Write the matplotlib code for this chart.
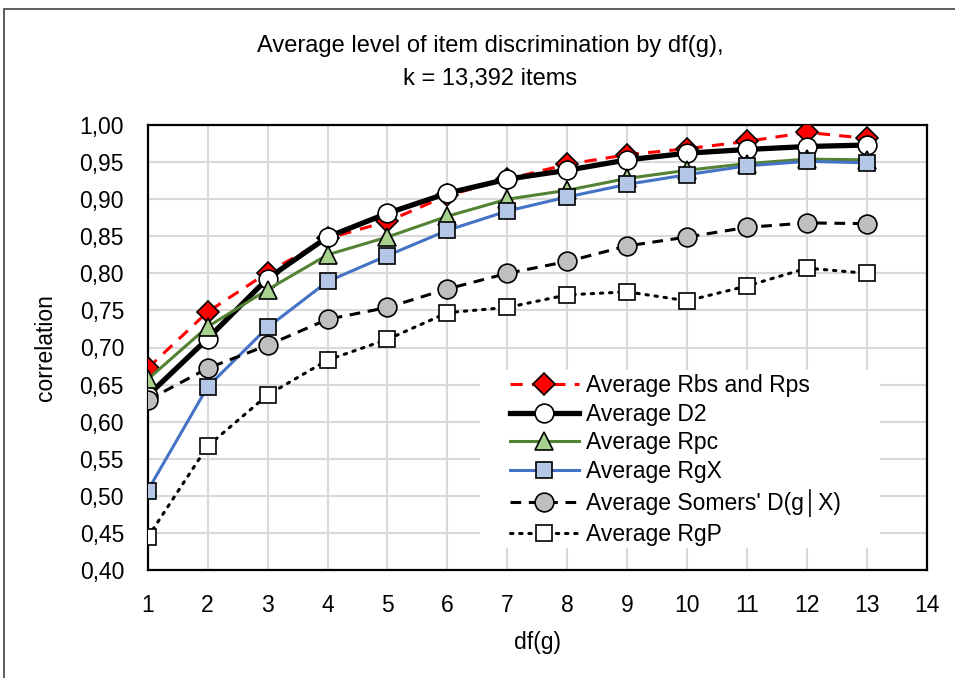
import matplotlib
matplotlib.use("Agg")
import matplotlib.pyplot as plt
from matplotlib.patches import Rectangle
from matplotlib.ticker import FuncFormatter
from matplotlib import font_manager


# data
df_g = [1, 2, 3, 4, 5, 6, 7, 8, 9, 10, 11, 12, 13]

rbs_rps = [0.672, 0.748, 0.801, 0.847, 0.870, 0.905, 0.927, 0.947, 0.960,
           0.968, 0.978, 0.990, 0.982]
d2 = [0.635, 0.712, 0.793, 0.849, 0.881, 0.908, 0.927, 0.939, 0.953,
      0.962, 0.967, 0.971, 0.973]
rpc = [0.657, 0.728, 0.778, 0.825, 0.849, 0.877, 0.900, 0.912, 0.928,
       0.939, 0.948, 0.954, 0.953]
rgx = [0.507, 0.647, 0.727, 0.789, 0.824, 0.858, 0.884, 0.903, 0.920,
       0.933, 0.945, 0.951, 0.949]
somers = [0.629, 0.672, 0.703, 0.738, 0.754, 0.779, 0.800, 0.816, 0.837,
          0.849, 0.862, 0.868, 0.867]
rgp = [0.444, 0.567, 0.636, 0.683, 0.711, 0.747, 0.754, 0.771, 0.775,
       0.763, 0.783, 0.807, 0.800]

labels = ["Average Rbs and Rps", "Average D2", "Average Rpc", "Average RgX",
          "Average Somers' D(g\u2502X)", "Average RgP"]

names = {f.name for f in font_manager.fontManager.ttflist}
FONT = "Liberation Sans Narrow" if "Liberation Sans Narrow" in names else "Liberation Sans"
FS = 18.5 if FONT.endswith("Narrow") else 16.5


def comma_fmt(v, pos):
    return f"{v:.2f}".replace(".", ",")


def main():
    plt.rcParams["font.family"] = [FONT, "DejaVu Sans"]
    fig = plt.figure(figsize=(9.55, 6.78), dpi=100)

    # chart area border (cropped on right/bottom)
    fig.patches.append(Rectangle((4 / 955, -0.1), 1.2, 1 - 9 / 678 + 0.1,
                                 transform=fig.transFigure, fill=False,
                                 edgecolor="#404040", linewidth=1.2))

    ax = fig.add_axes([147.7 / 955, (678 - 570) / 678,
                       (927 - 147.7) / 955, 445 / 678])

    ms = 13.5
    ax.plot(df_g, rbs_rps, color="#FF0000", lw=2.2, dashes=(4, 3),
            marker="D", ms=11, mfc="#FF0000", mec="black", mew=1.2,
            label=labels[0], zorder=3)
    ax.plot(df_g, d2, color="black", lw=3.8,
            marker="o", ms=ms, mfc="white", mec="black", mew=1.2,
            label=labels[1], zorder=4)
    ax.plot(df_g, rpc, color="#548235", lw=2.2,
            marker="^", ms=ms, mfc="#A9D18E", mec="black", mew=1.2,
            label=labels[2], zorder=5)
    ax.plot(df_g, rgx, color="#4472C4", lw=2.2,
            marker="s", ms=12, mfc="#B4C7E7", mec="black", mew=1.2,
            label=labels[3], zorder=6)
    ax.plot(df_g, somers, color="black", lw=2.2, dashes=(3.5, 2.5),
            marker="o", ms=ms, mfc="#BFBFBF", mec="black", mew=1.2,
            label=labels[4], zorder=7)
    ax.plot(df_g, rgp, color="black", lw=2.2, dashes=(0.8, 2.2),
            dash_capstyle="round",
            marker="s", ms=12, mfc="white", mec="black", mew=1.2,
            label=labels[5], zorder=8)

    ax.set_xlim(1, 14)
    ax.set_ylim(0.40, 1.00)
    ax.set_xticks(range(1, 15))
    ax.set_yticks([0.40 + 0.05 * i for i in range(13)])
    ax.yaxis.set_major_formatter(FuncFormatter(comma_fmt))
    ax.tick_params(length=0, labelsize=FS, pad=17)
    ax.tick_params(axis="x", pad=17)
    ax.grid(True, color="#D9D9D9", lw=1.5, zorder=0)
    ax.set_axisbelow(True)
    for sp in ax.spines.values():
        sp.set_linewidth(1.6)
        sp.set_color("black")

    ax.set_xlabel("df(g)", fontsize=FS, labelpad=10)
    ax.set_ylabel("correlation", fontsize=FS, labelpad=16)

    fig.text(0.5 + 0.013, 1 - 46 / 678, "Average level of item discrimination by df(g),",
             ha="center", va="center", fontsize=FS + 0.5)
    fig.text(0.5 + 0.013, 1 - 79 / 678, "k = 13,392 items",
             ha="center", va="center", fontsize=FS + 0.5)

    # white legend area covering the grid
    ax_w = 927 - 147.7
    ax.add_patch(Rectangle(((480 - 147.7) / ax_w, (570 - 548) / 445),
                           (880 - 480) / ax_w, (548 - 370) / 445,
                           transform=ax.transAxes, facecolor="white",
                           edgecolor="none", zorder=1))

    leg = ax.legend(loc="upper left",
                    bbox_to_anchor=((510 - 147.7) / ax_w, (570 - 374) / 445),
                    frameon=False, fontsize=FS, handlelength=3.0,
                    handletextpad=0.3, labelspacing=0.25, borderpad=0.0,
                    borderaxespad=0)
    leg.set_zorder(10)

    fig.savefig("out.png", dpi=100)


if __name__ == "__main__":
    main()
